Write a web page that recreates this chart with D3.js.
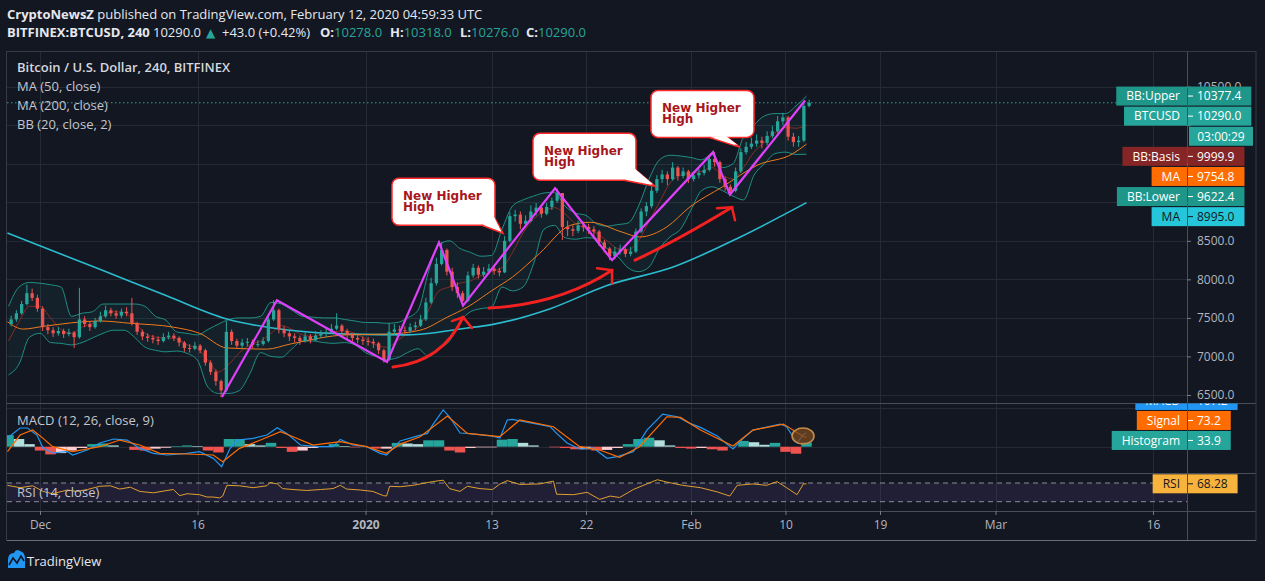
<!DOCTYPE html>
<html><head><meta charset="utf-8">
<script src="https://cdn.jsdelivr.net/npm/d3@7/dist/d3.min.js"></script>
<style>
html,body{margin:0;padding:0;background:#131722;}
svg{display:block;font-family:"Open Sans",sans-serif;}
</style></head><body>
<svg id="c" width="1265" height="581"></svg>
<script>
// ================= DATA =================
// 12h candles, first bar opens 2019-11-28 00:00 UTC (day -3 relative to 2019-12-01)
const candleStartDay = -3;
const firstOpen = 7420;
const closes = [
 7480,7560, 7680,7820, 7760,7620,
 7380,7340, 7300,7330, 7290,7310, 7250,7480, 7420,7380, 7460,7520, 7600,7560,
 7530,7580, 7560,7430, 7320,7260, 7240,7220, 7200,7250, 7270,7240, 7180,7110,
 7100,7140, 7080,6920, 6800,6680, 6560,7320, 7200,7140, 7180,7190, 7150,7160,
 7200,7480, 7600,7350, 7300,7260, 7240,7200, 7260,7210, 7270,7290, 7310,7360,
 7400,7330, 7280,7240, 7220,7200, 7190,7170, 7080,6960, 7320,7350, 7340,7330,
 7380,7400, 7480,7700, 7950,8200, 8380,8100, 7900,7820, 7720,8050, 8150,8060,
 8100,8140, 8110,8090, 8500,8820, 8840,8720, 8760,8880, 8930,8850, 8940,9020,
 9120,8680, 8650,8630, 8700,8680, 8650,8620, 8480,8400, 8300,8360, 8390,8330,
 8360,8620, 8880,8950, 9150,9300, 9360,9300, 9450,9340, 9400,9300, 9350,9380,
 9420,9560, 9520,9300, 9200,9150, 9400,9650, 9720,9760, 9800,9770, 9860,9920,
 10050,10100, 9850,9780, 9800,10250, 10290
];
const highs = [
 7530,7600, 7720,7930, 7880,7800,
 7650,7420, 7380,7380, 7360,7360, 7330,7890, 7520,7450, 7500,7580, 7660,7630,
 7600,7620, 7640,7760, 7450,7350, 7300,7280, 7260,7300, 7320,7300, 7260,7200,
 7160,7190, 7160,7100, 6950,6830, 6700,7460, 7350,7230, 7230,7240, 7220,7210,
 7250,7530, 7730,7620, 7390,7330, 7300,7270, 7310,7290, 7330,7340, 7370,7420,
 7560,7420, 7360,7300, 7280,7260, 7250,7230, 7190,7100, 7430,7420, 7400,7390,
 7430,7450, 7540,7760, 8020,8280, 8480,8400, 8150,7960, 7850,8100, 8200,8180,
 8160,8200, 8180,8150, 8560,8870, 8900,8880, 8830,8960, 8990,8960, 8990,9060,
 9180,9120, 8760,8700, 8760,8750, 8720,8690, 8640,8510, 8420,8420, 8450,8410,
 8420,8660, 8920,9000, 9260,9350, 9420,9400, 9520,9470, 9450,9420, 9400,9430,
 9480,9620, 9650,9540, 9330,9230, 9450,9700, 9780,9840, 9880,9850, 9920,9990,
 10120,10160, 10120,9900, 9860,10300, 10330
];
const lows = [
 7390,7450, 7540,7660, 7720,7580,
 7330,7290, 7250,7270, 7240,7260, 7110,7230, 7380,7330, 7360,7440, 7500,7520,
 7490,7500, 7520,7400, 7280,7210, 7190,7170, 7150,7180, 7220,7200, 7130,7060,
 7050,7080, 7040,6880, 6760,6620, 6470,6540, 7150,7100, 7110,7130, 7110,7120,
 7140,7180, 7460,7300, 7250,7200, 7180,7150, 7180,7170, 7200,7240, 7250,7290,
 7340,7290, 7230,7190, 7170,7150, 7140,7110, 7030,6920, 6940,7280, 7290,7280,
 7300,7340, 7380,7460, 7680,7920, 8180,8050, 7850,7760, 7650,7700, 8020,8010,
 8030,8070, 8060,8040, 8080,8480, 8750,8650, 8680,8740, 8830,8800, 8830,8900,
 8990,8510, 8560,8560, 8600,8620, 8590,8560, 8430,8350, 8250,8260, 8320,8290,
 8300,8340, 8600,8820, 8920,9120, 9250,9220, 9280,9280, 9310,9250, 9270,9310,
 9350,9400, 9460,9250, 9150,9100, 9130,9380, 9620,9690, 9720,9700, 9740,9830,
 9900,10000, 9800,9720, 9720,9780, 10230
];

// Daily indicator series, day -3 .. 73
const bandStartDay = -3;
const bbBasis = [
 7200,7450,7650,
 7650,7500,7350,7300,7380,7430,7530,
 7580,7570,7450,7300,7250,7240,7230,
 7150,7100,6950,6800,6900,7050,7150,
 7200,7300,7400,7350,7280,7260,7300,
 7320,7330,7300,7230,7150,7120,7200,
 7300,7380,7600,7850,7900,7950,7980,
 8050,8100,8150,8350,8600,8780,8880,
 8930,8850,8720,8660,8600,8500,8400,
 8380,8500,8750,9000,9250,9350,9380,
 9400,9450,9350,9300,9450,9650,9780,
 9900,9970,9960,9999.9
];
const bbUpper = [
 7650,7900,7960,
 7950,7930,7900,7520,7560,7580,7680,
 7680,7680,7680,7650,7520,7470,7320,
 7300,7280,7350,7420,7480,7500,7500,
 7520,7700,7680,7600,7520,7510,7500,
 7500,7480,7460,7440,7440,7430,7440,
 7500,7600,8100,8450,8500,8400,8350,
 8300,8310,8650,8950,9030,9080,9120,
 9130,8950,8860,8830,8720,8690,8710,
 8730,8950,9300,9550,9610,9600,9580,
 9550,9620,9450,9500,9850,10000,10120,
 10150,10150,10250,10377.4
];
const bbLower = [
 6760,6900,7250,
 7300,7180,7170,7150,7180,7240,7300,
 7340,7340,7250,7120,7080,7060,7070,
 7040,6950,6600,6520,6520,6560,6780,
 7050,7000,6990,7100,7200,7200,7180,
 7170,7180,7150,7050,7000,6960,6980,
 7050,7100,7000,7100,7200,7450,7580,
 7620,7640,7900,7850,7900,8200,8650,
 8700,8540,8520,8540,8530,8400,8300,
 8150,8100,8160,8400,8550,8650,8900,
 9150,9200,9150,9080,9030,9350,9500,
 9630,9650,9620,9622.4
];
const macdHist = [
 90,60,20,
 -30,-60,-50,-30,-10,20,25,
 10,0,-25,-30,-15,-8,5,
 10,5,-30,-45,60,60,20,
 10,30,-10,-40,-30,-10,0,
 20,5,-5,0,-15,-15,30,
 25,20,50,50,-30,-45,-10,
 -5,-5,55,60,30,10,0,
 -5,-10,-20,-20,-30,-25,-10,
 20,60,70,50,10,-10,-15,
 -10,-20,-30,0,45,35,15,
 30,-40,-55,33.9
];

// [day, value] readings
const ma50 = [[-3.1,7450],[-1.6,7355],[0.3,7390],[5.7,7460],[8.6,7430],[12.7,7380],[15.2,7300],[17.8,7110],[21.6,7095],[23.8,7160],[29.2,7280],[33,7290],[36.2,7340],[38.8,7510],[40.7,7640],[43.1,7860],[45,8030],[47.6,8340],[50.5,8700],[52.4,8740],[55.5,8610],[57.1,8550],[59.7,8680],[61.9,8940],[65,9200],[68.3,9480],[71.7,9630],[73,9754.8]];
const ma200 = [[-3.1,8600],[5.7,8130],[12,7790],[17.8,7485],[23.8,7340],[29.5,7290],[35,7280],[40.7,7370],[42.9,7410],[48.6,7620],[54,7920],[60.3,8160],[66.7,8550],[73,8995.0]];
const macdLine = [[-3.1,68],[-1.9,146],[-1.2,146],[-0.3,91],[0.3,-10],[1.2,-49],[2.6,-37],[3.1,-65],[4.5,-26],[5.7,29],[7,60],[8.3,52],[9.5,-13],[10.8,-52],[12.1,-65],[14,-52],[15.2,-39],[16.5,-91],[17.3,-156],[18.1,-13],[18.8,52],[20.3,65],[21.6,91],[22.6,148],[23.5,104],[24.8,13],[26.4,0],[27.9,0],[28.6,57],[29.8,13],[31.1,0],[32.4,-52],[33,-65],[34.3,45],[35.9,83],[36.9,104],[37.4,170],[38.4,287],[39,234],[40,107],[40.7,104],[43.1,83],[43.8,68],[44.5,209],[45,214],[47,182],[48.6,156],[49.2,104],[50.2,29],[51.4,-18],[52.7,-10],[54,-91],[55,-78],[56.5,-39],[57.8,130],[59.3,255],[60.7,234],[61.9,182],[62.9,151],[64.5,83],[66,-18],[67,68],[67.9,130],[70.5,177],[71.1,156],[72.1,29],[72.7,95],[73,107.2]];
const macdSignal = [[-3.1,-39],[-1.9,91],[-0.7,130],[0.3,65],[1.2,0],[3.1,-39],[5.7,0],[7.6,52],[9.5,13],[11.4,-52],[14,-57],[16.5,-65],[17.4,-117],[19,-13],[21,52],[22.9,117],[24.1,78],[26,13],[28.6,39],[31.1,0],[33,-52],[34.3,20],[36.2,78],[38.8,240],[40.7,104],[43.8,78],[45.7,209],[48.9,156],[51.4,0],[53.3,-26],[55.2,-83],[57.1,0],[59.7,234],[61,229],[62.9,130],[66,5],[67.9,130],[70.8,177],[72.7,80],[73,73.2]];
const rsi = [[-3.1,65],[-1.9,60],[-0.7,64],[0.3,52],[1.2,47],[2.6,55],[3.5,52],[4.5,56],[5.7,63],[6.7,64],[7.6,57],[8.6,61],[9.5,52],[10.8,49],[12.1,54],[12.7,56],[13.3,43],[14,47],[15.2,45],[15.9,40],[16.5,40],[17.1,38],[17.4,42],[17.8,65],[19,64],[20.3,60],[21.6,64],[21.9,71],[22.6,68],[23.1,58],[24.1,56],[25.4,54],[26.7,56],[27.9,58],[28.6,65],[29.2,57],[30.5,55],[31.7,52],[32.7,43],[33,42],[33.3,63],[34.3,62],[35.5,65],[37.4,73],[38.4,76],[39,58],[40,52],[40.7,63],[41.9,58],[43.1,56],[43.8,68],[44.5,75],[45.7,67],[47.6,68],[48.9,74],[49.2,46],[50.8,45],[52.1,50],[53.3,35],[54.3,42],[55.2,39],[56.5,56],[57.8,68],[58.8,77],[59.7,72],[61.2,65],[62.9,60],[64.5,51],[65.7,42],[66.4,65],[67.9,68],[69.2,65],[70.2,73],[71.1,60],[72.1,45],[72.7,68],[73,68.28]];

// Zig-zag pivots [day, price]
const zigzag = [[17.33,6474],[22.57,7730],[33.05,6930],[38.0,8480],[40.29,7660],[49.05,9180],[54.48,8250],[64.1,9650],[65.71,9100],[72.86,10320]];
// Curved arrows: start, control, tip, wing1, wing2 as [day, price]
const arrows = [
 [[33.62,6863],[38.33,6934],[40.29,7510],[39.24,7459],[41.14,7368]],
 [[42.76,7627],[49.52,7679],[54.48,8119],[53.05,8145],[54.48,7951]],
 [[56.67,8249],[60.62,8499],[65.9,8935],[64.48,8922],[66.19,8767]]
];
// Callouts: box top-left [day, price], tip [day, price]
const callouts = [
 {box:[33.52,9311], tip:[44.1,8598], lines:["New Higher","High"]},
 {box:[46.95,9894], tip:[58.57,9207], lines:["New Higher","High"]},
 {box:[58.19,10451], tip:[66.67,9712], lines:["New Higher","High"]}
];
const circleNote = [72.67, 84];

const priceTicks = [6500,7000,7500,8000,8500,9000,9500,10000,10500];
const xTickDates = ["2019-12-01","2019-12-16","2020-01-01","2020-01-13","2020-01-22","2020-02-01","2020-02-10","2020-02-19","2020-03-01","2020-03-16"];
const xTickLabels = ["Dec","16","2020","13","22","Feb","10","19","Mar","16"];
const lastClose = 10290.0;
const countdown = "03:00:29";

// ================= LAYOUT =================
const W=1265,H=581, PL=7, PR=1187, AXR=1256, TOP=51, MAIN_B=403, MACD_B=473, RSI_B=511, XAX_B=540;
const FONT='"Open Sans", sans-serif';
const GRID="#262a35", SEP="#4a4e59", TXT="#b2b5be";
const UP="#26a69a", DOWN="#ef5350";

const svg = d3.select("#c");
svg.append("rect").attr("width",W).attr("height",H).attr("fill","#131722");

const parse = d3.utcParse("%Y-%m-%d");
const T0 = parse("2019-12-01").getTime();
const dt = t => new Date(T0 + t*864e5);
const x = d3.scaleUtc().domain([dt(0), dt(106)]).range([40,1153]);
const X = t => x(dt(t));
const yP = d3.scaleLinear().domain([6500,10500]).range([395,86.6]);
const yM = d3.scaleLinear().domain([0,300]).range([446.7,408.3]);
const yR = d3.scaleLinear().domain([30,70]).range([501.7,483]);

const defs = svg.append("defs");
function clip(id,x0,y0,x1,y1){defs.append("clipPath").attr("id",id).append("rect").attr("x",x0).attr("y",y0).attr("width",x1-x0).attr("height",y1-y0);}
clip("cMain",PL,TOP,PR,MAIN_B); clip("cMacd",PL,MAIN_B,PR,MACD_B); clip("cRsi",PL,MACD_B,PR,RSI_B);
clip("cMacdAx",1000,MAIN_B+0.5,AXR,MACD_B);

// ---------- header ----------
const h1 = svg.append("text").attr("x",7).attr("y",19).attr("font-size",13).attr("fill","#e6e8ee").attr("font-family",FONT);
h1.append("tspan").attr("font-weight","bold").text("CryptoNewsZ");
h1.append("tspan").text(" published on TradingView.com, February 12, 2020 04:59:33 UTC");
const h2 = svg.append("text").attr("y",37).attr("font-size",13).attr("fill","#e6e8ee").attr("font-family",FONT);
h2.append("tspan").attr("x",7).attr("font-weight","bold").text("BITFINEX:BTCUSD, 240");
h2.append("tspan").attr("x",153).text(d3.format(".1f")(lastClose));
h2.append("tspan").attr("x",206).attr("fill",UP).attr("font-family","DejaVu Sans").attr("font-size",12).text("▲");
h2.append("tspan").attr("x",222).text("+43.0 (+0.42%)");
[["O:","10278.0",320],["H:","10318.0",390],["L:","10276.0",460],["C:","10290.0",526]].forEach(([k,v,px])=>{
  h2.append("tspan").attr("x",px).attr("font-weight","bold").text(k);
  h2.append("tspan").attr("fill",UP).text(v);
});

// ---------- grid ----------
const grid = svg.append("g");
xTickDates.forEach(d=>{
  const xx = Math.round(x(parse(d)))+0.5;
  grid.append("line").attr("x1",xx).attr("x2",xx).attr("y1",TOP).attr("y2",RSI_B).attr("stroke",GRID);
});
priceTicks.forEach(v=>{
  const yy = Math.round(yP(v))+0.5;
  grid.append("line").attr("x1",PL).attr("x2",PR).attr("y1",yy).attr("y2",yy).attr("stroke",GRID);
});
[0,300].forEach(v=>{
  const yy = Math.round(yM(v))+0.5;
  grid.append("line").attr("x1",PL).attr("x2",PR).attr("y1",yy).attr("y2",yy).attr("stroke",GRID);
});

// ---------- main pane ----------
const main = svg.append("g").attr("clip-path","url(#cMain)");
const bandDays = bbBasis.map((_,i)=>bandStartDay+i);
const area = d3.area().x((d,i)=>X(bandDays[i])).y0((d,i)=>yP(bbLower[i])).y1((d,i)=>yP(bbUpper[i])).curve(d3.curveMonotoneX);
main.append("path").attr("d",area(bbBasis)).attr("fill","rgba(38,166,154,0.07)");
const bandLine = arr => d3.line().x((d,i)=>X(bandDays[i])).y(d=>yP(d)).curve(d3.curveMonotoneX)(arr);
main.append("path").attr("d",bandLine(bbUpper)).attr("fill","none").attr("stroke","#1f8f84").attr("stroke-width",1);
main.append("path").attr("d",bandLine(bbLower)).attr("fill","none").attr("stroke","#1f8f84").attr("stroke-width",1);
main.append("path").attr("d",bandLine(bbBasis)).attr("fill","none").attr("stroke","#8a2b24").attr("stroke-width",1);

const pairLine = (s,yy)=>d3.line().x(d=>X(d[0])).y(d=>yy(d[1])).curve(d3.curveMonotoneX)(s);
main.append("path").attr("d",pairLine(ma200,yP)).attr("fill","none").attr("stroke","#2bbccf").attr("stroke-width",1.6);
main.append("path").attr("d",pairLine(ma50,yP)).attr("fill","none").attr("stroke","#f07a1a").attr("stroke-width",1);

// candles
const candles = closes.map((c,i)=>({t:candleStartDay+i*0.5, o:i?closes[i-1]:firstOpen, c, h:highs[i], l:lows[i]}));
const cg = main.append("g");
candles.forEach(d=>{
  const xa = X(d.t), xb = X(d.t+0.5), cx = (xa+xb)/2, bw = (xb-xa)*0.62;
  const col = d.c>=d.o?UP:DOWN;
  cg.append("line").attr("x1",cx).attr("x2",cx).attr("y1",yP(d.h)).attr("y2",yP(d.l)).attr("stroke",col).attr("stroke-width",1);
  const y1 = yP(Math.max(d.o,d.c)), y2 = yP(Math.min(d.o,d.c));
  cg.append("rect").attr("x",cx-bw/2).attr("y",y1).attr("width",bw).attr("height",Math.max(1,y2-y1)).attr("fill",col);
});

// last price dotted line
main.append("line").attr("x1",PL).attr("x2",PR).attr("y1",yP(lastClose)).attr("y2",yP(lastClose))
  .attr("stroke","#26a69a").attr("stroke-dasharray","1.5,2.5").attr("stroke-width",1);

// zigzag
main.append("path").attr("d",d3.line().x(d=>X(d[0])).y(d=>yP(d[1]))(zigzag))
  .attr("fill","none").attr("stroke","#e040fb").attr("stroke-width",2.2).attr("stroke-linejoin","miter");

// arrows
arrows.forEach(a=>{
  const p = a.map(d=>[X(d[0]),yP(d[1])]);
  const path = d3.path(); path.moveTo(...p[0]); path.quadraticCurveTo(p[1][0],p[1][1],p[2][0],p[2][1]);
  main.append("path").attr("d",path.toString()).attr("fill","none").attr("stroke","#f42121").attr("stroke-width",3).attr("stroke-linecap","round");
  main.append("path").attr("d",`M${p[3]}L${p[2]}L${p[4]}`).attr("fill","none").attr("stroke","#f42121").attr("stroke-width",2.5).attr("stroke-linecap","round").attr("stroke-linejoin","round");
});

// callouts
const BOXW=103, BOXH=47;
const tails = [[[90,BOXH],[BOXW,BOXH-7]],[[91,BOXH],[BOXW,BOXH-10]],[[58,BOXH],[76,BOXH]]];
callouts.forEach((c,k)=>{
  const bx = X(c.box[0]), by = yP(c.box[1]);
  const tx = X(c.tip[0]), ty = yP(c.tip[1]);
  const g = main.append("g");
  const tl = tails[k];
  g.append("rect").attr("x",bx).attr("y",by).attr("width",BOXW).attr("height",BOXH).attr("rx",7)
   .attr("fill","#ffffff").attr("stroke","#ff2a2a").attr("stroke-width",1.5);
  g.append("path").attr("d",`M${bx+tl[0][0]},${by+tl[0][1]}L${tx},${ty}L${bx+tl[1][0]},${by+tl[1][1]}`)
   .attr("fill","#ffffff").attr("stroke","#ff2a2a").attr("stroke-width",1.5).attr("stroke-linejoin","miter");
  g.append("path").attr("d",`M${bx+tl[0][0]+1.5},${by+tl[0][1]-1}L${tx-2},${ty-2}L${bx+tl[1][0]-1},${by+tl[1][1]-1.5}Z`).attr("fill","#ffffff");
  c.lines.forEach((s,j)=>{
    g.append("text").attr("x",bx+11).attr("y",by+21.5+j*11.5).attr("font-family","DejaVu Sans").attr("font-weight","bold")
     .attr("font-size",12).attr("fill","#a8161b").text(s);
  });
});

// ---------- MACD pane ----------
const macdG = svg.append("g").attr("clip-path","url(#cMacd)");
const histDays = macdHist.map((_,i)=>bandStartDay+i);
macdHist.forEach((v,i)=>{
  const prev = i?macdHist[i-1]:v;
  let col;
  if(v>=0) col = v>=prev? "#26a69a" : "#b2dfdb"; else col = v<prev? "#ef5350" : "#ffcdd2";
  const xa = X(histDays[i]-0.5), xb = X(histDays[i]+0.5);
  const y0 = yM(0), y1 = yM(v);
  macdG.append("rect").attr("x",xa).attr("y",Math.min(y0,y1)).attr("width",xb-xa).attr("height",Math.abs(y1-y0)).attr("fill",col);
});
const mline = s=>d3.line().x(d=>X(d[0])).y(d=>yM(d[1]))(s);
macdG.append("path").attr("d",mline(macdLine)).attr("fill","none").attr("stroke","#2196f3").attr("stroke-width",1.2);
macdG.append("path").attr("d",mline(macdSignal)).attr("fill","none").attr("stroke","#ff6d00").attr("stroke-width",1.2);
macdG.append("ellipse").attr("cx",X(circleNote[0])).attr("cy",yM(circleNote[1])).attr("rx",11).attr("ry",8)
  .attr("fill","#7a4a1e").attr("fill-opacity",0.75).attr("stroke","#c98a4a").attr("stroke-width",1.5);

// ---------- RSI pane ----------
const rsiG = svg.append("g").attr("clip-path","url(#cRsi)");
rsiG.append("rect").attr("x",PL).attr("y",yR(70)).attr("width",PR-PL).attr("height",yR(30)-yR(70)).attr("fill","rgba(126,87,194,0.13)");
[70,30].forEach(v=>rsiG.append("line").attr("x1",PL).attr("x2",PR).attr("y1",yR(v)).attr("y2",yR(v))
  .attr("stroke","#8a8d96").attr("stroke-dasharray","5,4").attr("stroke-width",1));
rsiG.append("path").attr("d",d3.line().x(d=>X(d[0])).y(d=>yR(d[1]))(rsi)).attr("fill","none").attr("stroke","#e0a030").attr("stroke-width",1);

// ---------- legends ----------
function legend(xx,yy,txt,opts={}){
  svg.append("text").attr("x",xx).attr("y",yy).attr("font-family",FONT).attr("font-size",opts.size||13)
   .attr("font-weight",opts.weight||"normal").attr("fill",opts.fill||"#c3c6ce").text(txt);
}
legend(17,72,"Bitcoin / U.S. Dollar, 240, BITFINEX",{weight:600,fill:"#d6d8de"});
legend(17,91,"MA (50, close)");
legend(17,110,"MA (200, close)");
legend(17,129,"BB (20, close, 2)");
legend(17,425,"MACD (12, 26, close, 9)");
legend(17,497,"RSI (14, close)");

// ---------- separators & frame ----------
[MAIN_B,MACD_B,RSI_B].forEach(v=>svg.append("line").attr("x1",PL).attr("x2",AXR).attr("y1",v+0.5).attr("y2",v+0.5).attr("stroke",SEP));
svg.append("line").attr("x1",PR+0.5).attr("x2",PR+0.5).attr("y1",TOP).attr("y2",XAX_B).attr("stroke",SEP);
svg.append("rect").attr("x",PL-0.5).attr("y",TOP+0.5).attr("width",AXR-PL+0.5).attr("height",XAX_B-TOP).attr("fill","none").attr("stroke","#363a45");
svg.append("line").attr("x1",PL).attr("x2",AXR).attr("y1",XAX_B+0.5).attr("y2",XAX_B+0.5).attr("stroke","#6a6d78");

// ---------- price labels (computed first so axis labels they cover can be skipped) ----------
const f1 = d3.format(".1f");
const mainTags = [
  {name:"BB:Upper", v:bbUpper[bbUpper.length-1], bg:"#1f968a", fg:"#ffffff"},
  {name:"BTCUSD", v:lastClose, bg:"#26a69a", fg:"#ffffff"},
  {name:null, v:null, text:countdown, bg:"#26a69a", fg:"#ffffff"},
  {name:"BB:Basis", v:bbBasis[bbBasis.length-1], bg:"#862525", fg:"#ffffff"},
  {name:"MA", v:ma50[ma50.length-1][1], bg:"#ff6d00", fg:"#ffffff"},
  {name:"BB:Lower", v:bbLower[bbLower.length-1], bg:"#1f968a", fg:"#ffffff"},
  {name:"MA", v:ma200[ma200.length-1][1], bg:"#26c6da", fg:"#131722"}
];
let prevY = -1e9;
mainTags.forEach(t=>{
  const own = t.v!=null? yP(t.v) : prevY+20;
  t.y = Math.max(own, prevY+20.1);
  prevY = t.y;
});
const stackTop = mainTags[0].y-9.5, stackBot = mainTags[mainTags.length-1].y+9.5;
const covered = v => { const yy = yP(v); return yy > stackTop+6 && yy < stackBot-6; };

// ---------- axes ----------
const gy = svg.append("g").attr("transform",`translate(${PR},0)`)
  .call(d3.axisRight(yP).tickValues(priceTicks).tickFormat(d3.format(".1f")).tickSize(4).tickPadding(6));
gy.select(".domain").remove();
gy.selectAll("line").attr("stroke","#787b86");
gy.selectAll("text").attr("fill",TXT).attr("font-family",FONT).attr("font-size",12);
gy.selectAll(".tick").filter(d=>covered(d)).select("text").remove();

const gx = svg.append("g").attr("transform",`translate(0,${RSI_B})`)
  .call(d3.axisBottom(x).tickValues(xTickDates.map(parse)).tickFormat((d,i)=>xTickLabels[i]).tickSize(4).tickPadding(5));
gx.select(".domain").remove();
gx.selectAll("line").attr("stroke","#787b86");
gx.selectAll("text").attr("fill",TXT).attr("font-family",FONT).attr("font-size",12)
  .attr("font-weight",(d,i)=>xTickLabels[i]==="2020"?"bold":"normal");

const measure = svg.append("text").attr("font-family",FONT).attr("font-size",12).attr("visibility","hidden");
const tw = s=>{measure.text(s); return measure.node().getComputedTextLength();};
function tag(parent, yc, name, value, bg, fg){
  const g = parent.append("g");
  const h=19;
  if(name){
    const w = tw(name)+17;
    g.append("rect").attr("x",PR-w).attr("y",yc-h/2).attr("width",w).attr("height",h).attr("fill",bg);
    g.append("text").attr("x",PR-7).attr("y",yc+4.3).attr("text-anchor","end").attr("font-family",FONT).attr("font-size",12).attr("fill",fg).text(name);
  }
  const vw = tw(value)+20;
  if(name!==null){
    g.append("rect").attr("x",PR+1).attr("y",yc-h/2).attr("width",vw-1).attr("height",h).attr("fill",bg);
    g.append("line").attr("x1",PR+1).attr("x2",PR+6).attr("y1",yc).attr("y2",yc).attr("stroke",fg);
    g.append("text").attr("x",PR+10).attr("y",yc+4.3).attr("font-family",FONT).attr("font-size",12).attr("fill",fg).text(value);
  } else {
    g.append("rect").attr("x",PR+2).attr("y",yc-h/2).attr("width",64).attr("height",h).attr("fill",bg);
    g.append("text").attr("x",PR+34).attr("y",yc+4.3).attr("text-anchor","middle").attr("font-family",FONT).attr("font-size",12).attr("fill",fg).text(value);
  }
}
mainTags.forEach(t=>tag(svg, t.y, t.name, t.v!=null? f1(t.v) : t.text, t.bg, t.fg));

const macdAx = svg.append("g").attr("clip-path","url(#cMacdAx)");
const macdTags = [
  {name:"Histogram", v:macdHist[macdHist.length-1], bg:"#26a69a", fg:"#ffffff"},
  {name:"Signal", v:macdSignal[macdSignal.length-1][1], bg:"#ff6d00", fg:"#ffffff"},
  {name:"MACD", v:macdLine[macdLine.length-1][1], bg:"#2196f3", fg:"#ffffff"}
];
let nextY = 1e9;
macdTags.forEach(t=>{
  const yc = Math.min(yM(t.v)-1.9, nextY-20);
  nextY = yc;
  tag(macdAx, yc, t.name, f1(t.v), t.bg, t.fg);
});
tag(svg, yR(rsi[rsi.length-1][1]), "RSI", d3.format(".2f")(rsi[rsi.length-1][1]), "#f8b33c", "#131722");

// ---------- TradingView logo ----------
const logo = svg.append("g");
logo.append("path").attr("d","M8,568 L8,560 Q8,553 14,553 Q16,548 20,551 Q25,552 25,559 L25,568 Z").attr("fill","#2196f3");
logo.append("path").attr("d","M9,565 L13,558 L17,563 L21,556 L24,561").attr("fill","none").attr("stroke","#131722").attr("stroke-width",1.6);
svg.append("text").attr("x",27).attr("y",566).attr("font-family",FONT).attr("font-size",13).attr("fill","#e6e8ee").text("TradingView");
</script>
</body></html>
